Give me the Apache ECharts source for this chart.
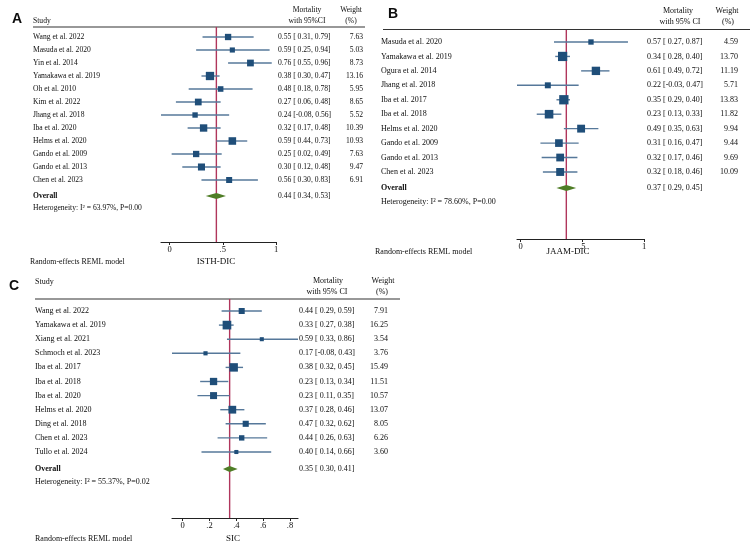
<!DOCTYPE html>
<html><head><meta charset="utf-8">
<script src="https://cdn.jsdelivr.net/npm/echarts@6/dist/echarts.min.js"></script>
<style>html,body{margin:0;padding:0;background:#fff}#c{width:750px;height:544px}</style>
</head><body><div id="c"></div>
<script>
// ---------- Panel A : ISTH-DIC ----------
const studiesA = ['Wang et al. 2022','Masuda et al. 2020','Yin et al. 2014','Yamakawa et al. 2019','Oh et al. 2010','Kim et al. 2022','Jhang et al. 2018','Iba et al. 2020','Helms et al. 2020','Gando et al. 2009','Gando et al. 2013','Chen et al. 2023'];
const estA    = [0.55,0.59,0.76,0.38,0.48,0.27,0.24,0.32,0.59,0.25,0.30,0.56];
const lowA    = [0.31,0.25,0.55,0.30,0.18,0.06,-0.08,0.17,0.44,0.02,0.12,0.30];
const highA   = [0.79,0.94,0.96,0.47,0.78,0.48,0.56,0.48,0.73,0.49,0.48,0.83];
const weightA = [7.63,5.03,8.73,13.16,5.95,8.65,5.52,10.39,10.93,7.63,9.47,6.91];
const overallA = [0.44,0.34,0.53];
const hetA = 'Heterogeneity: I² = 63.97%, P=0.00';
const ticksA = [0,0.5,1];
const titleA = 'ISTH-DIC';

// ---------- Panel B : JAAM-DIC ----------
const studiesB = ['Masuda et al. 2020','Yamakawa et al. 2019','Ogura et al. 2014','Jhang et al. 2018','Iba et al. 2017','Iba et al. 2018','Helms et al. 2020','Gando et al. 2009','Gando et al. 2013','Chen et al. 2023'];
const estB    = [0.57,0.34,0.61,0.22,0.35,0.23,0.49,0.31,0.32,0.32];
const lowB    = [0.27,0.28,0.49,-0.03,0.29,0.13,0.35,0.16,0.17,0.18];
const highB   = [0.87,0.40,0.72,0.47,0.40,0.33,0.63,0.47,0.46,0.46];
const weightB = [4.59,13.70,11.19,5.71,13.83,11.82,9.94,9.44,9.69,10.09];
const overallB = [0.37,0.29,0.45];
const hetB = 'Heterogeneity: I² = 78.60%, P=0.00';
const ticksB = [0,0.5,1];
const titleB = 'JAAM-DIC';

// ---------- Panel C : SIC ----------
const studiesC = ['Wang et al. 2022','Yamakawa et al. 2019','Xiang et al. 2021','Schmoch et al. 2023','Iba et al. 2017','Iba et al. 2018','Iba et al. 2020','Helms et al. 2020','Ding et al. 2018','Chen et al. 2023','Tullo et al. 2024'];
const estC    = [0.44,0.33,0.59,0.17,0.38,0.23,0.23,0.37,0.47,0.44,0.40];
const lowC    = [0.29,0.27,0.33,-0.08,0.32,0.13,0.11,0.28,0.32,0.26,0.14];
const highC   = [0.59,0.38,0.86,0.43,0.45,0.34,0.35,0.46,0.62,0.63,0.66];
const weightC = [7.91,16.25,3.54,3.76,15.49,11.51,10.57,13.07,8.05,6.26,3.60];
const overallC = [0.35,0.30,0.41];
const hetC = 'Heterogeneity: I² = 55.37%, P=0.02';
const ticksC = [0,0.2,0.4,0.6,0.8];
const titleC = 'SIC';

const modelNote = 'Random-effects REML model';

// ---------- styles ----------
const SERIF = '"Liberation Serif","DejaVu Serif",serif';
const SANS = '"Liberation Sans",Arial,sans-serif';
const TXT = '#0d0d0d';
const CI_COLOR = '#56789a';
const SQ_COLOR = '#1f4e79';
const RED = '#b0365c';
const DIA = '#4f7d26';

const panels = [
  { d:{names:studiesA,est:estA,low:lowA,high:highA,w:weightA,ov:overallA,het:hetA,ticks:ticksA,title:titleA,xMin:Math.min(...lowA),xMax:1},
    L:{left:161,right:276,top:27,bottom:242,row1:37,sp:13.0,ovPx:196,hetPx:208,nameX:33,valX:278,wRight:363,font:7.6,sqK:2.29,lblMargin:3} },
  { d:{names:studiesB,est:estB,low:lowB,high:highB,w:weightB,ov:overallB,het:hetB,ticks:ticksB,title:titleB,xMin:Math.min(...lowB),xMax:1},
    L:{left:517,right:644,top:30,bottom:239,row1:42,sp:14.44,ovPx:188,hetPx:202,nameX:381,valX:647,wRight:738,font:8,sqK:2.5,lblMargin:3} },
  { d:{names:studiesC,est:estC,low:lowC,high:highC,w:weightC,ov:overallC,het:hetC,ticks:ticksC,title:titleC,xMin:Math.min(...lowC),xMax:Math.max(...highC)},
    L:{left:172,right:298,top:299,bottom:518,row1:311,sp:14.1,ovPx:469,hetPx:482,nameX:35,valX:299,wRight:388,font:8,sqK:2.15,lblMargin:3} }
];

function f2(v){ return v.toFixed(2); }
function ciText(e,l,h){ return f2(e) + ' [' + (l < 0 ? '' : ' ') + f2(l) + ', ' + f2(h) + ']'; }
function tickFmt(v){ if (v === 0) return '0'; if (v === 1) return '1'; return String(+v.toFixed(2)).replace(/^0\./,'.'); }

const grids=[], xAxes=[], yAxes=[], series=[];

panels.forEach((p, gi) => {
  const d = p.d, L = p.L, n = d.names.length;
  const yMin = 1 - (L.row1 - L.top) / L.sp;
  const yMax = 1 + (L.bottom - L.row1) / L.sp;
  const lastPx = L.row1 + (n - 1) * L.sp;
  const yOv = n + (L.ovPx - lastPx) / L.sp;
  const yHet = n + (L.hetPx - lastPx) / L.sp;

  grids.push({left:L.left, top:L.top, width:L.right-L.left, height:L.bottom-L.top});
  xAxes.push({
    gridIndex:gi, type:'value', min:d.xMin, max:d.xMax,
    axisLine:{show:true, onZero:false, lineStyle:{color:'#222', width:1.1}},
    axisTick:{show:true, inside:false, length:3, customValues:d.ticks, lineStyle:{color:'#222'}},
    axisLabel:{show:true, customValues:d.ticks, formatter:tickFmt, margin:L.lblMargin, fontFamily:SERIF, fontSize:8.5, color:TXT},
    splitLine:{show:false}
  });
  yAxes.push({gridIndex:gi, type:'value', min:yMin, max:yMax, inverse:true, show:false, splitLine:{show:false}});

  // overall (red) reference line
  series.push({
    type:'line', xAxisIndex:gi, yAxisIndex:gi, z:1, silent:true, symbol:'none',
    lineStyle:{color:RED, width:1.4}, data:[[d.ov[0], yMin],[d.ov[0], yMax]]
  });

  // study CIs and weight squares
  series.push({
    type:'custom', xAxisIndex:gi, yAxisIndex:gi, z:2, silent:true,
    encode:{x:[0,1,2], y:3},
    data:d.names.map((_, i) => [d.est[i], d.low[i], d.high[i], i + 1, d.w[i]]),
    renderItem:(params, api) => {
      const row = api.value(3);
      const pL = api.coord([api.value(1), row]);
      const pH = api.coord([api.value(2), row]);
      const pE = api.coord([api.value(0), row]);
      const s = L.sqK * Math.sqrt(api.value(4));
      return {type:'group', children:[
        {type:'line', shape:{x1:pL[0], y1:pL[1], x2:pH[0], y2:pH[1]}, style:{stroke:CI_COLOR, lineWidth:1.4}},
        {type:'rect', shape:{x:pE[0]-s/2, y:pE[1]-s/2, width:s, height:s}, style:{fill:SQ_COLOR}}
      ]};
    }
  });

  // overall diamond
  series.push({
    type:'custom', xAxisIndex:gi, yAxisIndex:gi, z:3, silent:true,
    encode:{x:[0,1,2], y:3},
    data:[[d.ov[0], d.ov[1], d.ov[2], yOv]],
    renderItem:(params, api) => {
      const row = api.value(3);
      const pL = api.coord([api.value(1), row]);
      const pH = api.coord([api.value(2), row]);
      const pE = api.coord([api.value(0), row]);
      const h = 3;
      return {type:'polygon', shape:{points:[[pL[0],pE[1]],[pE[0],pE[1]-h],[pH[0],pE[1]],[pE[0],pE[1]+h]]}, style:{fill:DIA}};
    }
  });

  // table text rows
  const rows = d.names.map((_, i) => [d.xMin, i + 1, i]);
  rows.push([d.xMin, yOv, n]);
  rows.push([d.xMin, yHet, n + 1]);
  series.push({
    type:'custom', xAxisIndex:gi, yAxisIndex:gi, z:4, silent:true, clip:false,
    encode:{x:0, y:1},
    data:rows,
    renderItem:(params, api) => {
      const k = api.value(2);
      const y = api.coord([d.xMin, api.value(1)])[1];
      const fnt = L.font + 'px ' + SERIF;
      const bold = 'bold ' + L.font + 'px ' + SERIF;
      const kids = [];
      if (k < n) {
        kids.push({type:'text', style:{text:d.names[k], x:L.nameX, y:y, font:fnt, fill:TXT, align:'left', verticalAlign:'middle'}});
        kids.push({type:'text', style:{text:ciText(d.est[k], d.low[k], d.high[k]), x:L.valX, y:y, font:fnt, fill:TXT, align:'left', verticalAlign:'middle'}});
        kids.push({type:'text', style:{text:f2(d.w[k]), x:L.wRight, y:y, font:fnt, fill:TXT, align:'right', verticalAlign:'middle'}});
      } else if (k === n) {
        kids.push({type:'text', style:{text:'Overall', x:L.nameX, y:y, font:bold, fill:TXT, align:'left', verticalAlign:'middle'}});
        kids.push({type:'text', style:{text:ciText(d.ov[0], d.ov[1], d.ov[2]), x:L.valX, y:y, font:fnt, fill:TXT, align:'left', verticalAlign:'middle'}});
      } else {
        kids.push({type:'text', style:{text:d.het, x:L.nameX, y:y, font:fnt, fill:TXT, align:'left', verticalAlign:'middle'}});
      }
      return {type:'group', children:kids};
    }
  });
});

// static headers / footers
function T(text, x, y, opt) {
  opt = opt || {};
  return {type:'text', silent:true, x:x, y:y, style:{text:text, font:(opt.bold?'bold ':'') + (opt.size||8) + 'px ' + (opt.family||SERIF), fill:TXT, align:opt.align||'left', verticalAlign:'middle'}};
}
function HL(x1, x2, y) {
  return {type:'line', silent:true, shape:{x1:x1, y1:y, x2:x2, y2:y}, style:{stroke:'#333', lineWidth:1.1}};
}
const graphic = [
  // Panel A
  T('A', 17, 19, {bold:true, size:14, family:SANS, align:'center'}),
  T('Study', 33, 21, {size:7.6}),
  T('Mortality', 307, 10, {size:7.6, align:'center'}),
  T('with 95%CI', 307, 21, {size:7.6, align:'center'}),
  T('Weight', 351, 10, {size:7.6, align:'center'}),
  T('(%)', 351, 21, {size:7.6, align:'center'}),
  HL(33, 365, 27),
  T(modelNote, 30, 262, {size:7.8}),
  T(titleA, 216, 262, {size:9, align:'center'}),
  // Panel B
  T('B', 393, 14, {bold:true, size:14, family:SANS, align:'center'}),
  T('Mortality', 678, 11, {size:8, align:'center'}),
  T('with 95% CI', 680, 22, {size:8, align:'center'}),
  T('Weight', 727, 11, {size:8, align:'center'}),
  T('(%)', 728, 22, {size:8, align:'center'}),
  HL(383, 750, 29.5),
  T(modelNote, 375, 252, {size:8}),
  T(titleB, 568, 252, {size:9, align:'center'}),
  // Panel C
  T('C', 14, 286, {bold:true, size:14, family:SANS, align:'center'}),
  T('Study', 35, 282, {size:8}),
  T('Mortality', 328, 281, {size:8, align:'center'}),
  T('with 95% CI', 327, 292, {size:8, align:'center'}),
  T('Weight', 383, 281, {size:8, align:'center'}),
  T('(%)', 382, 292, {size:8, align:'center'}),
  HL(35, 400, 299),
  T(modelNote, 35, 539, {size:8}),
  T(titleC, 233, 539, {size:9, align:'center'})
];

const chart = echarts.init(document.getElementById('c'), null, {renderer:'canvas'});
chart.setOption({
  animation:false,
  backgroundColor:'#fff',
  grid:grids, xAxis:xAxes, yAxis:yAxes, series:series, graphic:graphic
});
</script>
</body></html>
